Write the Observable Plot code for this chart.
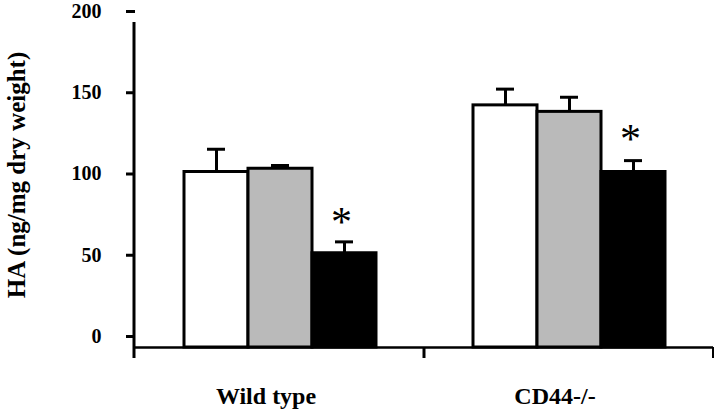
<!DOCTYPE html>
<html>
<head>
<meta charset="utf-8">
<script src="https://cdn.jsdelivr.net/npm/d3@7"></script>
<script src="https://cdn.jsdelivr.net/npm/@observablehq/plot@0.6"></script>
<style>
  html, body { margin: 0; padding: 0; background: #fff; }
  svg { display: block; }
</style>
</head>
<body>
<div id="chart"></div>
<script>
// ---- data ----
const groups = ["Wild type", "CD44-/-"];
const conditions = ["A", "B", "C"];           // white, gray, black bars
const means  = [[108, 110, 58], [149, 145, 108]];
const errors = [[14, 2, 7], [10, 9, 7]];
const stars  = [{group: "Wild type", cond: "C", y: 81}, {group: "CD44-/-", cond: "C", y: 132}];
const yTicks = [0, 50, 100, 150, 200];
const yLabel = "HA (ng/mg dry weight)";
const fills  = ["#ffffff", "#bababa", "#000000"];

const rows = [];
groups.forEach((g, gi) => conditions.forEach((c, ci) => {
  rows.push({group: g, cond: c, value: means[gi][ci], hi: means[gi][ci] + errors[gi][ci]});
}));

const W = 720, H = 410;
const mL = 134, mR = 7, mT = 22, mB = 63;
const font = "'Liberation Serif', 'Times New Roman', serif";

const plot = Plot.plot({
  width: W, height: H,
  marginLeft: mL, marginRight: mR, marginTop: mT, marginBottom: mB,
  style: {fontFamily: font, background: "#fff", color: "#000"},
  fx: {domain: groups, padding: 0},
  x: {domain: conditions, paddingInner: 0, paddingOuter: 0.74, axis: null},
  y: {domain: [0, 200], axis: null},
  color: {domain: conditions, range: fills},
  marks: [
    Plot.barY(rows, {fx: "group", x: "cond", y: "value", fill: "cond", stroke: "#000", strokeWidth: 3}),
    Plot.ruleX(rows, {fx: "group", x: "cond", y1: "value", y2: "hi", stroke: "#000", strokeWidth: 3}),
    Plot.tickY(rows, {fx: "group", x: "cond", y: "hi", stroke: "#000", strokeWidth: 3, insetLeft: 23, insetRight: 23}),
    Plot.text(stars, {fx: "group", x: "cond", y: "y", text: () => "*", fontSize: 42, dx: -3, dy: 7, fill: "#000"}),
    Plot.ruleY([0], {stroke: "#000", strokeWidth: 2.5}),
    Plot.axisY({ticks: yTicks, tickSize: 9, tickPadding: 25, strokeWidth: 3, fontSize: 20, fontWeight: "bold", dy: -11, label: null}),
    Plot.axisFx({anchor: "bottom", tickSize: 0, tickPadding: 39, fontSize: 24, fontWeight: "bold", dx: -14, label: null}),
    Plot.text([yLabel], {fx: () => groups[0], frameAnchor: "left", textAnchor: "middle", text: d => d, rotate: -90, dx: -119, dy: -10, fontSize: 25, fontWeight: "bold", fill: "#000"})
  ]
});

document.getElementById("chart").appendChild(plot);

// axis lines drawn from the plot's own scales
const y = plot.scale("y"), fx = plot.scale("fx");
const svg = d3.select(plot);
const y0 = y.apply(0), yTop = y.apply(200);
const g = svg.append("g").attr("stroke", "#000").attr("fill", "none");
g.append("line").attr("x1", mL).attr("x2", mL).attr("y1", yTop).attr("y2", y0 + 11).attr("stroke-width", 3);
const boundary = fx.apply(groups[1]);
g.append("line").attr("x1", boundary).attr("x2", boundary).attr("y1", y0).attr("y2", y0 + 11).attr("stroke-width", 3);
g.append("line").attr("x1", W - mR).attr("x2", W - mR).attr("y1", y0).attr("y2", y0 + 11).attr("stroke-width", 2);
</script>
</body>
</html>
